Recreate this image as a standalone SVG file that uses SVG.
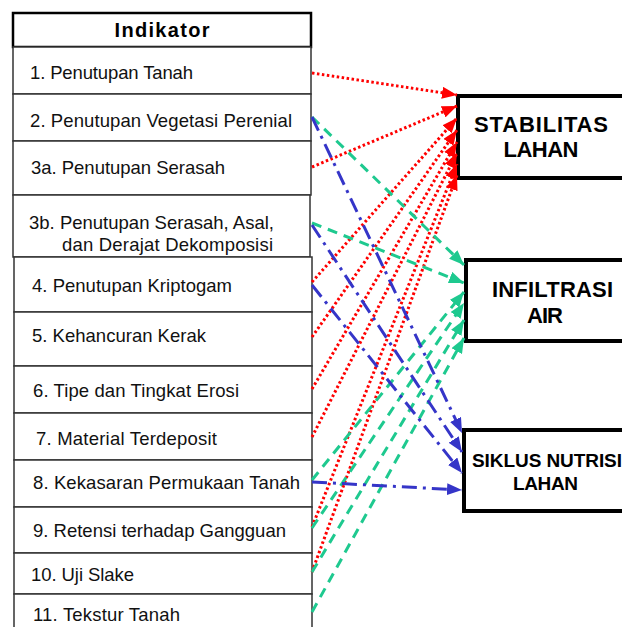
<svg xmlns="http://www.w3.org/2000/svg" width="622" height="627" viewBox="0 0 622 627">
<style>
.row{fill:#fff;stroke:#333;stroke-width:1.5}
.hdr{fill:#fff;stroke:#000;stroke-width:2.5}
.box{fill:#fff;stroke:#000;stroke-width:4}
.t{font-family:"Liberation Sans",Arial,sans-serif;font-size:18.5px;fill:#111}
.th{font-family:"Liberation Sans",Arial,sans-serif;font-size:20px;font-weight:bold;fill:#000}
.tb{font-family:"Liberation Sans",Arial,sans-serif;font-size:22px;font-weight:bold;fill:#000}
.ts{font-family:"Liberation Sans",Arial,sans-serif;font-size:19px;font-weight:bold;fill:#000}
.red{fill:none;stroke:#f00;stroke-width:3;stroke-dasharray:2.5 2.5;marker-end:url(#ar)}
.grn{fill:none;stroke:#1ec98f;stroke-width:3;stroke-dasharray:10 7;marker-end:url(#ag)}
.blu{fill:none;stroke:#3535c8;stroke-width:3;stroke-dasharray:15 6 3 6;marker-end:url(#ab)}
</style>
<defs>
<marker id="ar" viewBox="0 0 15 12" refX="15" refY="6" markerWidth="15" markerHeight="12" markerUnits="userSpaceOnUse" orient="auto"><path d="M0,0 L15,6 L0,12 z" fill="#f00"/></marker>
<marker id="ag" viewBox="0 0 15 12" refX="15" refY="6" markerWidth="15" markerHeight="12" markerUnits="userSpaceOnUse" orient="auto"><path d="M0,0 L15,6 L0,12 z" fill="#1ec98f"/></marker>
<marker id="ab" viewBox="0 0 15 12" refX="15" refY="6" markerWidth="15" markerHeight="12" markerUnits="userSpaceOnUse" orient="auto"><path d="M0,0 L15,6 L0,12 z" fill="#3535c8"/></marker>
</defs>
<rect width="622" height="627" fill="#fff"/>

<g id="header"><rect class="hdr" x="13" y="13" width="298" height="34"/><text class="th" x="162" y="37" text-anchor="middle" textLength="95">Indikator</text></g>
<g id="row1"><rect class="row" x="13" y="47" width="298" height="47"/><text class="t" x="30" y="79" textLength="163">1. Penutupan Tanah</text></g>
<g id="row2"><rect class="row" x="13" y="94" width="298" height="47"/><text class="t" x="30" y="127" textLength="262">2. Penutupan Vegetasi Perenial</text></g>
<g id="row3a"><rect class="row" x="13" y="141" width="298" height="54"/><text class="t" x="31" y="174" textLength="194">3a. Penutupan Serasah</text></g>
<g id="row3b"><rect class="row" x="13" y="195" width="297" height="62"/><text class="t" x="29" y="229" textLength="245">3b. Penutupan Serasah, Asal,</text><text class="t" x="62" y="251" textLength="211">dan Derajat Dekomposisi</text></g>
<g id="row4"><rect class="row" x="14" y="257" width="298" height="55"/><text class="t" x="32" y="292" textLength="200">4. Penutupan Kriptogam</text></g>
<g id="row5"><rect class="row" x="14" y="312" width="298" height="54"/><text class="t" x="32" y="342" textLength="174">5. Kehancuran Kerak</text></g>
<g id="row6"><rect class="row" x="14" y="366" width="298" height="47"/><text class="t" x="33" y="397" textLength="206">6. Tipe dan Tingkat Erosi</text></g>
<g id="row7"><rect class="row" x="14" y="413" width="298" height="47"/><text class="t" x="36" y="445" textLength="181">7. Material Terdeposit</text></g>
<g id="row8"><rect class="row" x="14" y="460" width="298" height="47"/><text class="t" x="33" y="489" textLength="267">8. Kekasaran Permukaan Tanah</text></g>
<g id="row9"><rect class="row" x="14" y="507" width="298" height="46"/><text class="t" x="33" y="537" textLength="253">9. Retensi terhadap Gangguan</text></g>
<g id="row10"><rect class="row" x="14" y="553" width="298" height="41"/><text class="t" x="31" y="581" textLength="103">10. Uji Slake</text></g>
<g id="row11"><rect class="row" x="14" y="594" width="298" height="50"/><text class="t" x="33" y="621" textLength="147">11. Tekstur Tanah</text></g>

<g id="stabilitas"><rect class="box" x="458" y="96" width="180" height="82"/><text class="tb" x="541" y="132" text-anchor="middle" textLength="134">STABILITAS</text><text class="tb" x="541" y="157" text-anchor="middle" textLength="75">LAHAN</text></g>
<g id="infiltrasi"><rect class="box" x="466" y="260" width="180" height="81"/><text class="tb" x="492" y="297" textLength="121">INFILTRASI</text><text class="tb" x="527" y="323" textLength="36">AIR</text></g>
<g id="siklus"><rect class="box" x="464" y="430" width="180" height="81"/><text class="ts" x="472" y="467" textLength="150">SIKLUS NUTRISI</text><text class="ts" x="513" y="490" textLength="65">LAHAN</text></g>

<g id="connectors">
<path class="red" d="M312,73 L457,95"/>
<path class="red" d="M312,167 L457,106"/>
<path class="red" d="M312,282 L457,118"/>
<path class="red" d="M312,337 L457,130"/>
<path class="red" d="M312,389 L457,142"/>
<path class="red" d="M312,437 L457,153"/>
<path class="red" d="M312,527 L457,164"/>
<path class="red" d="M312,572 L457,175"/>
<path class="grn" d="M312,117 L464,265"/>
<path class="grn" d="M312,223 L464,283"/>
<path class="grn" d="M312,480 L464,292"/>
<path class="grn" d="M312,528 L464,303"/>
<path class="grn" d="M312,572 L464,320"/>
<path class="grn" d="M312,612 L464,338"/>
<path class="blu" d="M312,117 L462,433"/>
<path class="blu" d="M312,225 L462,452"/>
<path class="blu" d="M312,285 L462,473"/>
<path class="blu" d="M312,482 L462,490"/>
</g>
</svg>
